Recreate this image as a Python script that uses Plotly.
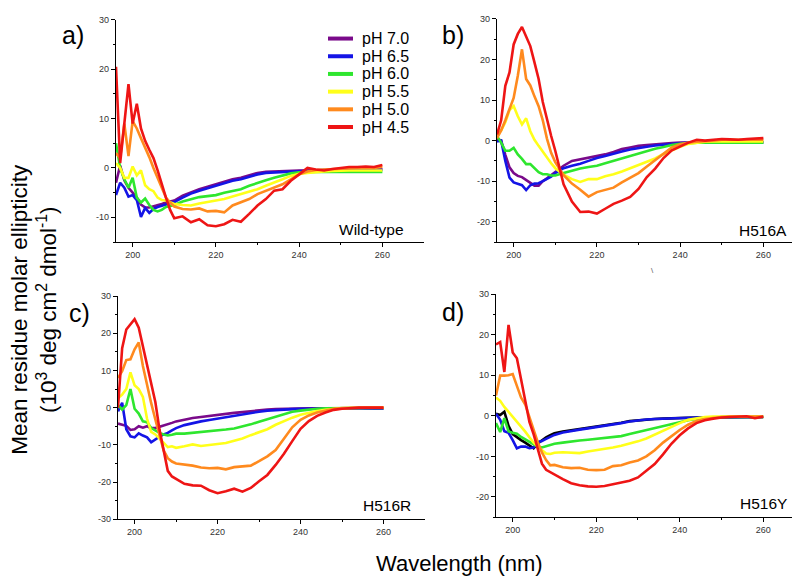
import plotly.graph_objects as go

# ---------------- data ----------------
wavelength = [196, 197, 198, 199, 200, 201, 202, 203, 204, 205, 206, 207, 208, 209, 210,
              212, 214, 216, 218, 220, 222, 224, 226, 228, 230, 232, 234, 236, 238, 240,
              242, 244, 246, 248, 250, 252, 254, 256, 258, 260]

ph_labels = ["pH 7.0", "pH 6.5", "pH 6.0", "pH 5.5", "pH 5.0", "pH 4.5"]

# Panel a) Wild-type
wt_ph70 = [-3, 0.5, -2.5, -4, -5, -6, -7.4, -8, -8, -7.8, -7.6, -7.3, -7, -6.8, -6.6,
           -5.6, -4.9, -4.3, -3.8, -3.3, -2.7, -2.3, -2, -1.5, -1, -0.8, -0.7, -0.6, -0.5, -0.5,
           -0.5, -0.4, -0.4, -0.4, -0.3, -0.3, -0.3, -0.3, -0.3, -0.3]
wt_ph65 = [-5.5, -3, -4, -5.8, -5.5, -6.5, -9.9, -8.1, -9.1, -8.3, -7.9, -7.7, -7.4, -7.1, -6.9,
           -6, -5.2, -4.6, -4.1, -3.6, -3, -2.6, -2.3, -1.8, -1.3, -1, -0.9, -0.8, -0.7, -0.6,
           -0.5, -0.5, -0.4, -0.4, -0.4, -0.3, -0.3, -0.3, -0.3, -0.3]
wt_ph60 = [5, 0, -2.3, -4, -2, -6, -7, -6.2, -7.5, -8.5, -8.8, -8.5, -7.9, -7.7, -7.5,
           -6.8, -6.3, -5.9, -5.7, -5.5, -5, -4.6, -4.3, -3.6, -3, -2.5, -2, -1.5, -1.1, -0.9,
           -0.8, -0.8, -0.8, -0.8, -0.8, -0.8, -0.8, -0.8, -0.8, -0.8]
wt_ph55 = [1, 0, -2, -2, 0.3, -1.5, -0.5, -3.5, -4.3, -4.7, -6, -6.5, -6.6, -7, -7.3,
           -7.5, -7.6, -7.2, -6.9, -6.6, -6.3, -5.8, -5.3, -4.8, -4.3, -3.6, -3, -2.3, -1.6, -1.2,
           -1, -0.8, -0.7, -0.6, -0.5, -0.5, -0.5, -0.5, -0.5, -0.5]
wt_ph50 = [3, 2, 9, 2.4, 9.5, 8, 6, 4.2, 2.2, 0, -2, -3.8, -6, -7, -7.8,
           -8.3, -8.4, -8.2, -8.8, -8.7, -9, -7.6, -6.9, -6.3, -5.3, -4.6, -3.9, -3.3, -2.3, -1.3,
           -0.7, -0.4, -0.3, -0.2, -0.2, 0, 0, 0, 0, 0.2]
wt_ph45 = [20.5, 1, 9, 17, 9, 13, 8, 5.5, 3.7, 2, -0.5, -3.5, -6, -8.5, -10.2,
           -9.8, -11, -10.4, -11.6, -11.8, -11.4, -10.5, -10.9, -9.3, -7.6, -6.3, -4.6, -4.3, -2.6, -1.3,
           0, -0.3, -0.5, -0.2, 0, 0.2, 0.2, 0.3, 0.2, 0.6]

# Panel b) H516A
h516a_ph70 = [0.5, 0, -3.5, -6.6, -8, -8.7, -9, -9.7, -10.5, -11.1, -11.1, -10, -9.3, -8.5, -7.8,
              -6.2, -5, -4.6, -4.1, -3.8, -3.4, -2.8, -2.1, -1.7, -1.3, -1.1, -0.9, -0.7, -0.6, -0.5,
              -0.5, -0.4, -0.4, -0.4, -0.4, -0.4, -0.4, -0.4, -0.4, -0.4]
h516a_ph65 = [-0.2, 0, -5, -9.1, -10.3, -10.7, -11, -12.2, -11, -10.6, -10.5, -10, -9.4, -8.9, -8,
              -6.8, -6.2, -5.7, -5, -4.3, -3.8, -3.2, -2.7, -2.2, -1.8, -1.5, -1.2, -1, -0.8, -0.6,
              -0.5, -0.4, -0.4, -0.4, -0.4, -0.4, -0.4, -0.4, -0.4, -0.4]
h516a_ph60 = [1.1, -0.5, -2.5, -2.5, -1.8, -3.4, -4.5, -5.8, -5.8, -6.8, -7.8, -8.3, -8.3, -8.6, -8.6,
              -8, -7.4, -6.9, -6.5, -6.2, -5.6, -5, -4.3, -3.7, -3.1, -2.6, -2, -1.6, -1.1, -0.8,
              -0.6, -0.5, -0.5, -0.5, -0.5, -0.5, -0.5, -0.5, -0.5, -0.5]
h516a_ph55 = [1.5, 2.5, 4.5, 7.5, 8.5, 6, 4, 5.5, 2.3, 0.2, -1.3, -2.8, -4.3, -5.6, -6.8,
              -8.4, -9.5, -10.2, -9.5, -9.5, -8.8, -8.3, -7.6, -6.8, -6, -5.3, -4.4, -3.3, -2.3, -1.5,
              -0.8, -0.5, -0.3, -0.2, -0.2, -0.2, -0.2, -0.2, -0.2, -0.2]
h516a_ph50 = [0.6, 2.5, 5, 7.8, 10.5, 16, 22.5, 15.2, 13.6, 10.9, 8.5, 5, 0.5, -3, -5.3,
              -8.5, -10.6, -12.1, -13.8, -12.7, -12.1, -11.6, -10.3, -9.2, -8, -6.4, -4.8, -3.2, -1.7, -0.9,
              -0.5, -0.3, -0.2, 0, 0.2, 0.2, 0.2, 0.2, 0.2, 0.2]
h516a_ph45 = [1.5, 5, 13.5, 16.8, 23.7, 26.3, 28, 25.5, 23.3, 19.3, 15.2, 9.5, 5, 1.2, -2.5,
              -10.8, -15, -17.6, -17.5, -18, -16.8, -15.6, -14.8, -13.9, -11.9, -9, -6.9, -4.3, -2.4, -1.4,
              -0.5, 0.2, 0, 0.2, 0.4, 0.3, 0.2, 0.4, 0.5, 0.6]

# Panel c) H516R
h516r_ph70 = [-4.3, -4.6, -4.9, -6, -5.8, -5, -5.4, -5, -5.5, -5.5, -5.2, -4.8, -4.5, -4.1, -3.7,
              -3.2, -2.8, -2.5, -2.2, -1.9, -1.7, -1.4, -1.2, -0.9, -0.6, -0.5, -0.4, -0.3, -0.3, -0.2,
              -0.2, -0.2, -0.2, -0.2, -0.2, -0.2, -0.2, -0.2, -0.2, -0.2]
h516r_ph65 = [-1, 1.3, -5.8, -7.7, -8, -6.9, -7.5, -8, -9.3, -8.5, -7.8, -7.2, -6.8, -6.1, -5.5,
              -4.7, -4.1, -3.7, -3.3, -2.9, -2.5, -2.2, -1.8, -1.5, -1.1, -0.8, -0.6, -0.5, -0.4, -0.3,
              -0.3, -0.2, -0.2, -0.2, -0.2, -0.2, -0.2, -0.2, -0.2, -0.2]
h516r_ph60 = [0.7, -0.5, 0.7, 5, -0.3, -1.6, -3.7, -3.9, -5.5, -6.2, -6.8, -7.2, -7.5, -7.3, -7,
              -7, -6.8, -6.7, -6.5, -6.3, -5.9, -5.6, -5.1, -4.5, -3.8, -3.1, -2.4, -1.7, -1.1, -0.8,
              -0.5, -0.3, -0.2, -0.1, -0.1, -0.1, -0.1, -0.1, -0.1, -0.1]
h516r_ph55 = [2.5, 3.5, 5, 9.5, 6, 5, 2.9, -3, -6.5, -7.2, -8.3, -9.5, -10.6, -10.4, -10.8,
              -10.4, -9.9, -10.3, -10.1, -9.9, -9.5, -8.9, -8.3, -7.4, -6.5, -5.8, -4.6, -3.6, -2.7, -1.9,
              -1.3, -0.9, -0.6, -0.3, -0.2, -0.1, 0, 0, 0, 0]
h516r_ph50 = [8, 9.8, 12.8, 13, 15.7, 17.5, 11.2, 6, 1.2, -3.2, -7.5, -11.5, -13.6, -14.5, -15,
              -15.2, -15.6, -16.1, -16.3, -16.2, -16.6, -16, -15.8, -15.6, -14.4, -13.1, -11.4, -8.4, -5.3, -3.3,
              -2.1, -1.3, -0.7, -0.3, -0.1, 0, 0, 0, 0, 0]
h516r_ph45 = [0, 16, 21, 22.3, 23.8, 21.5, 16.5, 11.5, 6.5, 1.5, -5.9, -11.8, -17, -18.5, -19.2,
              -20.5, -20.9, -21, -22.2, -23, -22.5, -21.8, -22.6, -21.6, -19.8, -18.1, -15.4, -12.4, -9, -5.7,
              -3.6, -2.2, -1.3, -0.6, -0.3, -0.1, 0, 0, 0.1, 0]

# Panel d) H516Y
h516y_ph70 = [0.5, 0.2, 1, -2.5, -4.5, -5.3, -6, -6.6, -7.3, -8, -6.8, -6, -5.3, -4.8, -4.3,
              -3.9, -3.6, -3.3, -3, -2.7, -2.3, -2, -1.7, -1.3, -1.1, -0.9, -0.8, -0.7, -0.6, -0.6,
              -0.5, -0.4, -0.4, -0.4, -0.3, -0.3, -0.3, -0.3, -0.3, -0.3]
h516y_ph65 = [0.5, -1, -3.8, -4.2, -6, -8, -7.6, -7.6, -8, -7.8, -6.5, -6.2, -5.7, -5.1, -4.7,
              -4.1, -3.7, -3.4, -3.1, -2.8, -2.4, -2.1, -1.8, -1.4, -1.1, -0.9, -0.8, -0.7, -0.6, -0.6,
              -0.5, -0.4, -0.4, -0.4, -0.3, -0.3, -0.3, -0.3, -0.3, -0.3]
h516y_ph60 = [-1.8, -4, -0.6, -3.8, -4.2, -4.4, -5.2, -5.8, -6.5, -7.2, -7.6, -7.8, -7.5, -7.2, -6.9,
              -6.6, -6.3, -6.1, -5.9, -5.7, -5.4, -5.2, -5, -4.5, -4, -3.5, -3, -2.5, -2, -1.5,
              -1.1, -0.8, -0.6, -0.4, -0.3, -0.3, -0.3, -0.3, -0.3, -0.3]
h516y_ph55 = [4.5, 3.7, 2.2, 1, -0.2, -1.3, -2.6, -3.9, -5.3, -6.6, -7.6, -8.5, -9.3, -9.4, -9.1,
              -9, -9.1, -9.2, -8.8, -8.5, -8.2, -7.8, -7.4, -6.9, -6.3, -5.6, -4.6, -3.6, -2.6, -1.8,
              -1, -0.6, -0.3, -0.2, -0.2, -0.2, -0.2, -0.2, -0.2, -0.2]
h516y_ph50 = [5, 9.9, 9.9, 10, 10.3, 7.6, 4.5, 2.8, -0.3, -3.8, -6.5, -9, -10.9, -12.2, -12.1,
              -12.7, -12.9, -12.8, -13.3, -13.4, -13.3, -12.4, -12.2, -11.5, -11, -10, -8.5, -6.6, -5, -3.5,
              -2.2, -1.3, -0.8, -0.5, -0.3, -0.2, -0.2, -0.2, -0.2, -0.2]
h516y_ph45 = [17.6, 18.2, 10.8, 22.4, 15.6, 14.2, 9, 3.5, -1.5, -4.5, -8.5, -11.8, -13.3, -13.9, -14.5,
              -15.6, -16.6, -17.1, -17.4, -17.5, -17.3, -16.9, -16.5, -16, -15.2, -13.5, -11.9, -9.5, -6.9, -4.8,
              -3.1, -1.8, -1.1, -0.7, -0.4, -0.3, -0.2, -0.1, -0.6, -0.2]

panel_names = ["Wild-type", "H516A", "H516R", "H516Y"]
panel_letters = ["a)", "b)", "c)", "d)"]

x_tick_vals = [200, 220, 240, 260]
x_tick_text = ["200", "220", "240", "260"]
y_tick_vals = [-30, -20, -10, 0, 10, 20, 30]
y_tick_text = ["-30", "-20", "-10", "0", "10", "20", "30"]

# ---------------- styling ----------------
FONT = "Liberation Sans, Arial, sans-serif"
colors_std = ["#7a0a8a", "#1414e6", "#2ee62e", "#ffff1a", "#ff8a1e", "#ee1515"]
colors_d = ["#000000", "#1414e6", "#2ee62e", "#ffff1a", "#ff8a1e", "#ee1515"]

panels = [
    dict(series=[wt_ph70, wt_ph65, wt_ph60, wt_ph55, wt_ph50, wt_ph45], colors=colors_std,
         xdom=[108 / 800, 416 / 800], ydom=[1 - 233 / 585, 1 - 7 / 585], yr=[-15, 30]),
    dict(series=[h516a_ph70, h516a_ph65, h516a_ph60, h516a_ph55, h516a_ph50, h516a_ph45], colors=colors_std,
         xdom=[489 / 800, 797 / 800], ydom=[1 - 233 / 585, 1 - 6 / 585], yr=[-25, 30]),
    dict(series=[h516r_ph70, h516r_ph65, h516r_ph60, h516r_ph55, h516r_ph50, h516r_ph45], colors=colors_std,
         xdom=[110 / 800, 417 / 800], ydom=[1 - 515 / 585, 1 - 288 / 585], yr=[-30, 30]),
    dict(series=[h516y_ph70, h516y_ph65, h516y_ph60, h516y_ph55, h516y_ph50, h516y_ph45], colors=colors_d,
         xdom=[488 / 800, 797 / 800], ydom=[1 - 513 / 585, 1 - 286 / 585], yr=[-25, 30]),
]

fig = go.Figure()
tickfont = dict(family=FONT, size=9, color="#333333")

for i, p in enumerate(panels):
    n = "" if i == 0 else str(i + 1)
    for j, ys in enumerate(p["series"]):
        fig.add_trace(go.Scatter(
            x=wavelength, y=ys, mode="lines", name=ph_labels[j],
            line=dict(color=p["colors"][j], width=2.6),
            xaxis="x" + n, yaxis="y" + n, showlegend=False,
        ))
    axis_common = dict(showline=True, linecolor="black", linewidth=1.3, ticks="outside",
                       ticklen=4, tickwidth=1, tickcolor="black", showgrid=False, zeroline=False,
                       tickfont=tickfont)
    fig.layout["xaxis" + n] = dict(domain=p["xdom"], anchor="y" + n, range=[196, 270],
                                   tickvals=x_tick_vals, ticktext=x_tick_text,
                                   minor=dict(tickvals=[210, 230, 250], ticklen=2, ticks="outside",
                                              tickcolor="black"),
                                   **axis_common)
    fig.layout["yaxis" + n] = dict(domain=p["ydom"], anchor="x" + n, range=p["yr"],
                                   tickvals=y_tick_vals, ticktext=y_tick_text,
                                   minor=dict(dtick=5, ticklen=2, ticks="outside", tickcolor="black"),
                                   **axis_common)

annotations = []
shapes = []
# legend (panel a), drawn as key lines + labels
legend_rows_y = [26, 44, 62, 80, 98, 116]
for lbl, col, ry in zip(ph_labels, colors_std, legend_rows_y):
    shapes.append(dict(type="line", xref="paper", yref="paper",
                       x0=320 / 800, x1=345 / 800, y0=1 - ry / 585, y1=1 - ry / 585,
                       line=dict(color=col, width=4)))
    annotations.append(dict(text=lbl, x=352 / 800, y=1 - ry / 585, xref="paper", yref="paper",
                            showarrow=False, font=dict(family=FONT, size=16, color="black"),
                            xanchor="left", yanchor="middle"))
# panel letters
for (txt, px, py) in zip(panel_letters, [65, 445, 71, 445], [22, 22, 305, 304]):
    annotations.append(dict(text=txt, x=px / 800, y=1 - py / 585, xref="paper", yref="paper",
                            showarrow=False, font=dict(family=FONT, size=25, color="black"),
                            xanchor="center", yanchor="middle"))
# panel names
for (txt, px, py) in zip(panel_names, [398, 781, 405, 781], [220, 221, 501, 499]):
    annotations.append(dict(text=txt, x=px / 800, y=1 - py / 585, xref="paper", yref="paper",
                            showarrow=False, font=dict(family=FONT, size=15.5, color="black"),
                            xanchor="right", yanchor="middle"))
# axis titles
annotations.append(dict(text="Mean residue molar ellipticity<br>(10<sup>3</sup> deg cm<sup>2</sup> dmol<sup>-1</sup>)",
                        x=26 / 800, y=1 - 302 / 585, xref="paper", yref="paper", showarrow=False,
                        textangle=-90, font=dict(family=FONT, size=22.5, color="black"),
                        xanchor="center", yanchor="middle"))
annotations.append(dict(text="Wavelength (nm)", x=452 / 800, y=1 - 560 / 585, xref="paper", yref="paper",
                        showarrow=False, font=dict(family=FONT, size=22, color="black"),
                        xanchor="center", yanchor="middle"))
annotations.append(dict(text="\\", x=648 / 800, y=1 - 262 / 585, xref="paper", yref="paper",
                        showarrow=False, font=dict(family=FONT, size=8, color="#555555")))

fig.update_layout(
    width=800, height=585, margin=dict(l=0, r=0, t=0, b=0),
    paper_bgcolor="white", plot_bgcolor="white",
    annotations=annotations, shapes=shapes, showlegend=False,
)

fig.write_html("out.html")
